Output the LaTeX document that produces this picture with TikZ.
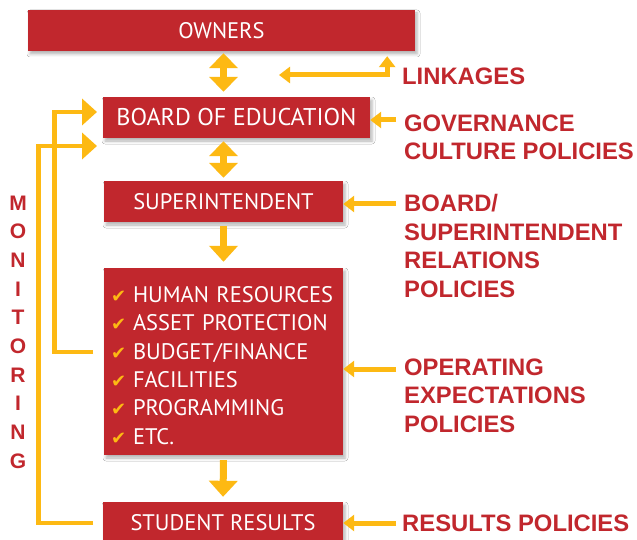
\documentclass[tikz,border=0pt]{standalone}
\usepackage{fontspec}
\setmainfont{Liberation Sans}
\newfontfamily\boxfont{PT Sans}
\newfontfamily\symfont{DejaVu Sans}
\usetikzlibrary{arrows.meta,shadows.blur}
\definecolor{boxred}{HTML}{C1272D}
\definecolor{arrowgold}{HTML}{FDB913}
\newcommand\chk{\makebox[22pt][l]{\symfont\fontsize{18}{18}\selectfont\textcolor{arrowgold}{✔}}}
\tikzset{
  redbox/.style={fill=boxred, text=white, inner sep=0pt,
    font=\boxfont\fontsize{22.5}{28.4}\selectfont,
    blur shadow={shadow xshift=2pt, shadow yshift=-3pt, shadow blur radius=3pt, shadow opacity=30}},
  policy/.style={anchor=north west, align=left, text=boxred, inner sep=0pt,
    font=\bfseries\fontsize{23.8}{28.5}\selectfont},
  dblarrow/.style={draw=arrowgold, line width=7pt, >={Triangle[width=28pt,length=15pt]}, <->},
  downarrow/.style={draw=arrowgold, line width=7pt, >={Triangle[width=28pt,length=16pt]}, ->},
  sidearrow/.style={draw=arrowgold, line width=5pt, >={Triangle[width=16pt,length=11pt]}},
  monline/.style={draw=arrowgold, line width=4.5pt, >={Triangle[width=26pt,length=15pt]}, ->},
}
\begin{document}
\begin{tikzpicture}[x=1pt, y=-1pt]
\fill[white] (0,0) rectangle (637,540);
\useasboundingbox (0,0) rectangle (637,540);
\node[redbox, minimum width=387pt, minimum height=41pt] (owners) at (221.5,30.5) {OWNERS};
\node[redbox, minimum width=267pt, minimum height=41pt, font=\boxfont\fontsize{24.2}{28}\selectfont] (board) at (236.5,117.5) {BOARD OF EDUCATION};
\node[redbox, minimum width=239pt, minimum height=41pt] (super) at (223.5,201.5) {SUPERINTENDENT};
\node[redbox, minimum width=239pt, minimum height=187pt, text width=225pt, inner xsep=7pt, align=left] (ops) at (223.5,361.5)
  {\rule{0pt}{24pt}\chk HUMAN RESOURCES\\\chk ASSET PROTECTION\\\chk BUDGET/FINANCE\\\chk FACILITIES\\\chk PROGRAMMING\\\chk ETC.};
\node[redbox, minimum width=240pt, minimum height=41pt] (results) at (223,522.5) {STUDENT RESULTS};

\node[policy] (linkages) at (402,67.5) {LINKAGES};
\node[policy] (governance) at (404,114.5) {GOVERNANCE\\CULTURE POLICIES};
\node[policy] (relations) at (404,194.5) {BOARD/\\SUPERINTENDENT\\RELATIONS\\POLICIES};
\node[policy] (operating) at (404,358.5) {OPERATING\\EXPECTATIONS\\POLICIES};
\node[policy] (resultspol) at (402,514.5) {RESULTS POLICIES};
\node[align=center, text=boxred, inner sep=0pt, font=\bfseries\fontsize{21}{28.67}\selectfont] (monitoring) at (18,332)
  {M\\O\\N\\I\\T\\O\\R\\I\\N\\G};

\draw[dblarrow, shorten <=2pt, shorten >=5pt] (owners.south -| super.north) -- (board.north -| super.north);
\draw[dblarrow, shorten <=3pt, shorten >=3pt] (board.south -| super.north) -- (super.north);
\draw[downarrow, shorten <=4pt, shorten >=6pt] (super.south) -- (ops.north);
\draw[downarrow, shorten <=5pt, shorten >=5pt] (ops.south) -- (results.north);

\coordinate (linkleft) at (279,75);
\draw[sidearrow, <->, shorten >=5pt] (linkleft) -| ([xshift=-28pt]owners.south east);
\coordinate (govtail) at (396,120);
\coordinate (reltail) at (396,204);
\coordinate (optail) at (396,369);
\coordinate (restail) at (396,523);
\draw[sidearrow, ->] (govtail) -- (govtail -| board.east);
\draw[sidearrow, ->] (reltail) -- (reltail -| super.east);
\draw[sidearrow, ->] (optail) -- (optail -| ops.east);
\draw[sidearrow, ->] (restail) -- (restail -| results.east);

\coordinate (mon1) at (93,352);
\coordinate (mon1tip) at (97,112);
\coordinate (mon2) at (93,523);
\coordinate (mon2tip) at (97,146);
\draw[monline] (mon1) -| (54.5,112) -- (mon1tip);
\draw[monline] (mon2) -| (38.5,146) -- (mon2tip);
\end{tikzpicture}
\end{document}
